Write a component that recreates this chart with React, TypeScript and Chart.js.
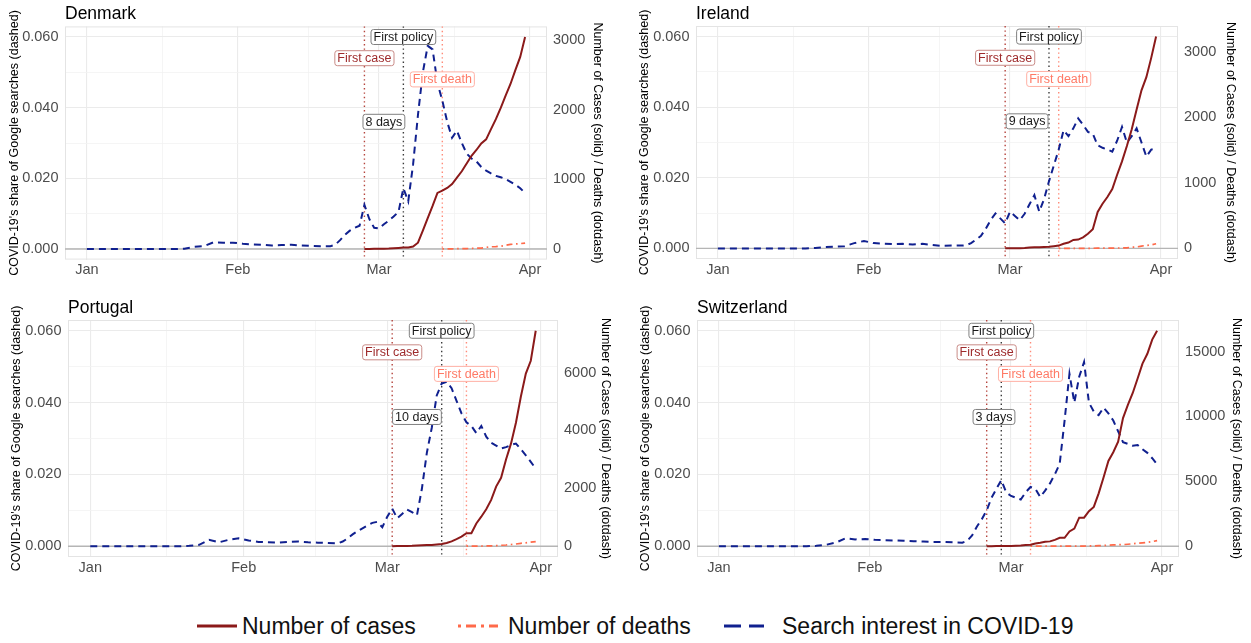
import React, { useEffect, useRef } from "react";
import { Chart, registerables } from "chart.js";
Chart.register(...registerables);

const FONT = '"Liberation Sans", Arial, Helvetica, sans-serif';

// ---------- axis ticks ----------
const X_TICK_DATES = ["2020-01-01", "2020-02-01", "2020-03-01", "2020-04-01"];
const X_TICK_LABELS = ["Jan", "Feb", "Mar", "Apr"];
const Y_TICKS = [0, 0.02, 0.04, 0.06];
const DK_Y2_TICKS = [0, 1000, 2000, 3000];
const IE_Y2_TICKS = [0, 1000, 2000, 3000];
const PT_Y2_TICKS = [0, 2000, 4000, 6000];
const CH_Y2_TICKS = [0, 5000, 10000, 15000];

// ---------- search interest (days since 1 Jan 2020) ----------
const SEARCH_DAYS = [
  0, 2, 4, 6, 8, 10, 12, 14, 16, 18, 20, 22, 24, 26, 28, 30, 32, 34, 36, 38, 40, 42, 44, 46, 48, 50,
  51, 52, 53, 54, 55, 56, 57, 58, 59, 60, 61, 62, 63, 64, 65, 66, 67, 68, 69, 70,
  71, 72, 73, 74, 75, 76, 77, 78, 79, 80, 81, 82, 83, 84, 85, 86, 87, 88, 89, 90,
];
const DK_SEARCH = [
  0, 0, 0, 0, 0, 0, 0, 0, 0, 0, 0.0001, 0.0006, 0.0008, 0.0019, 0.0018, 0.0018, 0.0015, 0.0013, 0.0012, 0.001, 0.0011, 0.0012, 0.001, 0.0009, 0.0008, 0.0008,
  0.0012, 0.0025, 0.004, 0.0052, 0.006, 0.0066, 0.0125, 0.0085, 0.006, 0.0058, 0.007, 0.008, 0.0092, 0.0105, 0.0172, 0.0135, 0.024, 0.038, 0.05, 0.0575,
  0.0565, 0.047, 0.042, 0.036, 0.0315, 0.0335, 0.03, 0.027, 0.0256, 0.0248, 0.0232, 0.0222, 0.0214, 0.0207, 0.0203, 0.0198, 0.019, 0.0182, 0.0172, 0.0158,
];
const IE_SEARCH = [
  0, 0, 0, 0, 0, 0, 0, 0, 0, 0, 0.0001, 0.0004, 0.0005, 0.0006, 0.0015, 0.0021, 0.0015, 0.0013, 0.0012, 0.0013, 0.0011, 0.0013, 0.001, 0.0007, 0.0008, 0.0008,
  0.0009, 0.0015, 0.0025, 0.0035, 0.0055, 0.008, 0.0099, 0.0085, 0.0071, 0.0104, 0.0092, 0.008, 0.0098, 0.0125, 0.0151, 0.0104, 0.014, 0.019, 0.0235, 0.028,
  0.0335, 0.0318, 0.034, 0.0368, 0.035, 0.033, 0.0325, 0.0292, 0.0285, 0.028, 0.0274, 0.0305, 0.0344, 0.03, 0.0318, 0.034, 0.03, 0.026, 0.028, 0.0283,
];
const PT_SEARCH = [
  0, 0, 0, 0, 0, 0, 0, 0, 0, 0, 0.0001, 0.0004, 0.0018, 0.0011, 0.0018, 0.0022, 0.0016, 0.0012, 0.0011, 0.001, 0.0012, 0.0013, 0.0011, 0.001, 0.0009, 0.0008,
  0.0013, 0.0022, 0.0033, 0.0042, 0.005, 0.0058, 0.0065, 0.0068, 0.0053, 0.0082, 0.0105, 0.0078, 0.009, 0.0102, 0.0095, 0.0086, 0.016, 0.026, 0.033, 0.042,
  0.0453, 0.0458, 0.044, 0.0405, 0.037, 0.0345, 0.0335, 0.0315, 0.0335, 0.0305, 0.0288, 0.028, 0.0272, 0.0276, 0.0282, 0.0286, 0.027, 0.0253, 0.0235, 0.0216,
];
const CH_SEARCH = [
  0, 0, 0, 0, 0, 0, 0, 0, 0, 0, 0.0001, 0.0004, 0.001, 0.0022, 0.0019, 0.002, 0.0018, 0.0017, 0.0016, 0.0015, 0.0014, 0.0013, 0.0012, 0.0012, 0.0011, 0.001,
  0.0015, 0.003, 0.0055, 0.0075, 0.01, 0.0135, 0.016, 0.0184, 0.015, 0.014, 0.0135, 0.013, 0.015, 0.0165, 0.016, 0.0137, 0.0155, 0.0175, 0.02, 0.023,
  0.035, 0.048, 0.04, 0.0472, 0.0513, 0.04, 0.0375, 0.0365, 0.0386, 0.037, 0.035, 0.032, 0.029, 0.0285, 0.028, 0.0282, 0.027, 0.026, 0.0245, 0.0228,
];

// ---------- cumulative cases and deaths (daily from start date) ----------
const DK_CASES_START = "2020-02-27";
const DK_CASES = [1, 1, 2, 3, 4, 6, 10, 15, 20, 23, 35, 90, 264, 444, 617, 804, 836, 875, 932, 1024, 1115, 1225, 1337, 1420, 1514, 1572, 1718, 1862, 2023, 2200, 2366, 2564, 2755, 3040];
const DK_DEATHS_START = "2020-03-14";
const DK_DEATHS = [1, 2, 3, 4, 4, 6, 9, 13, 13, 24, 32, 34, 41, 52, 65, 72, 77, 85];

const IE_CASES_START = "2020-02-29";
const IE_CASES = [1, 1, 1, 2, 6, 13, 18, 19, 21, 24, 34, 43, 70, 90, 129, 135, 169, 223, 292, 557, 683, 785, 906, 1125, 1329, 1564, 1819, 2121, 2415, 2615, 2910, 3235];
const IE_DEATHS_START = "2020-03-11";
const IE_DEATHS = [1, 1, 1, 2, 2, 2, 2, 2, 3, 3, 3, 4, 6, 7, 9, 19, 22, 36, 46, 54, 71];

const PT_CASES_START = "2020-03-02";
const PT_CASES = [2, 4, 6, 9, 13, 21, 30, 39, 41, 59, 78, 112, 169, 245, 331, 448, 448, 785, 1020, 1280, 1600, 2060, 2362, 2995, 3544, 4268, 5170, 5962, 6408, 7443];
const PT_DEATHS_START = "2020-03-17";
const PT_DEATHS = [1, 2, 3, 6, 12, 14, 23, 33, 43, 60, 76, 100, 119, 140, 160];

const CH_CASES_START = "2020-02-25";
const CH_CASES = [1, 1, 8, 8, 18, 27, 42, 56, 90, 114, 214, 268, 337, 374, 491, 652, 652, 1139, 1359, 2200, 2200, 2700, 3028, 4075, 5294, 6575, 7245, 8060, 9877, 10897, 11811, 12928, 14076, 14829, 15922, 16605];
const CH_DEATHS_START = "2020-03-05";
const CH_DEATHS = [1, 1, 1, 2, 2, 3, 4, 4, 11, 13, 14, 14, 27, 28, 41, 54, 75, 98, 120, 122, 153, 191, 231, 264, 300, 359, 433];

// ---------- event dates: first case, first policy, first death ----------
const DK_EVENTS = ["2020-02-27", "2020-03-06", "2020-03-14"];
const IE_EVENTS = ["2020-02-29", "2020-03-09", "2020-03-11"];
const PT_EVENTS = ["2020-03-02", "2020-03-12", "2020-03-17"];
const CH_EVENTS = ["2020-02-25", "2020-02-28", "2020-03-05"];

// ---------- helpers ----------
const day = (iso: string) => {
  const [y, m, d] = iso.split("-").map(Number);
  return (Date.UTC(y, m - 1, d) - Date.UTC(2020, 0, 1)) / 86400000;
};
const dailySeries = (start: string, values: number[]) => values.map((v, i) => ({ x: day(start) + i, y: v }));

const C_CASES = "#8B1A1A";
const C_DEATHS = "#FF6A4A";
const C_SEARCH = "#10208F";
const TICK_COLOR = "#4D4D4D";

const PANELS = [
  {
    name: "Denmark", search: DK_SEARCH, casesStart: DK_CASES_START, cases: DK_CASES, deathsStart: DK_DEATHS_START, deaths: DK_DEATHS,
    events: DK_EVENTS, y2Ticks: DK_Y2_TICKS,
    box: { left: 0, top: 0, w: 625, h: 290 }, area: { left: 65, right: 547, top: 26.4, bottom: 259.6 }, titleY: 14, leftTitleX: 15, rightTitleX: 597,
  },
  {
    name: "Ireland", search: IE_SEARCH, casesStart: IE_CASES_START, cases: IE_CASES, deathsStart: IE_DEATHS_START, deaths: IE_DEATHS,
    events: IE_EVENTS, y2Ticks: IE_Y2_TICKS,
    box: { left: 625, top: 0, w: 626, h: 290 }, area: { left: 71, right: 553, top: 26, bottom: 259 }, titleY: 14, leftTitleX: 20, rightTitleX: 605,
  },
  {
    name: "Portugal", search: PT_SEARCH, casesStart: PT_CASES_START, cases: PT_CASES, deathsStart: PT_DEATHS_START, deaths: PT_DEATHS,
    events: PT_EVENTS, y2Ticks: PT_Y2_TICKS,
    box: { left: 0, top: 290, w: 625, h: 300 }, area: { left: 68, right: 558, top: 30, bottom: 267 }, titleY: 18, leftTitleX: 17, rightTitleX: 605,
  },
  {
    name: "Switzerland", search: CH_SEARCH, casesStart: CH_CASES_START, cases: CH_CASES, deathsStart: CH_DEATHS_START, deaths: CH_DEATHS,
    events: CH_EVENTS, y2Ticks: CH_Y2_TICKS,
    box: { left: 625, top: 290, w: 626, h: 300 }, area: { left: 72, right: 554, top: 30, bottom: 267 }, titleY: 18, leftTitleX: 21, rightTitleX: 611,
  },
];

function roundRect(ctx: CanvasRenderingContext2D, x: number, y: number, w: number, h: number, r: number) {
  ctx.beginPath();
  ctx.moveTo(x + r, y);
  ctx.lineTo(x + w - r, y);
  ctx.arcTo(x + w, y, x + w, y + r, r);
  ctx.lineTo(x + w, y + h - r);
  ctx.arcTo(x + w, y + h, x + w - r, y + h, r);
  ctx.lineTo(x + r, y + h);
  ctx.arcTo(x, y + h, x, y + h - r, r);
  ctx.lineTo(x, y + r);
  ctx.arcTo(x, y, x + r, y, r);
  ctx.closePath();
}

function Panel({ p }: { p: any }) {
  const ref = useRef<HTMLCanvasElement | null>(null);
  useEffect(() => {
    if (!ref.current) return;
    const K = Math.max(...p.cases) / 0.06;
    const majorsX = X_TICK_DATES.map(day);
    const minorsX = majorsX.slice(1).map((v, i) => (v + majorsX[i]) / 2);
    const xTicks = [...majorsX, ...minorsX].sort((a, b) => a - b);
    const isMajorX = (v: number) => majorsX.some((m) => Math.abs(m - v) < 1e-6);
    const minorsY = Y_TICKS.slice(1).map((v, i) => (v + Y_TICKS[i]) / 2);
    const yTicks = [...Y_TICKS, ...minorsY].sort((a, b) => a - b);
    const isMajorY = (v: number) => Y_TICKS.some((m) => Math.abs(m - v) < 1e-9);

    const [caseD, policyD, deathD] = p.events.map(day);
    const gap = policyD - caseD;

    const tickFont = { family: FONT, size: 14.5 };
    const titleFont = { family: FONT, size: 12.5 };
    const lh = 12.5 * 1.2;

    const plugin = {
      id: "panelDecor",
      beforeDatasetsDraw(chart: any) {
        const { ctx, chartArea: a, scales } = chart;
        ctx.save();
        ctx.strokeStyle = "#e4e4e4";
        ctx.lineWidth = 1;
        ctx.strokeRect(a.left + 0.5, a.top + 0.5, a.right - a.left - 1, a.bottom - a.top - 1);
        const y0 = scales.y.getPixelForValue(0);
        ctx.strokeStyle = "#b5b5b5";
        ctx.lineWidth = 1.4;
        ctx.beginPath();
        ctx.moveTo(a.left, y0);
        ctx.lineTo(a.right, y0);
        ctx.stroke();
        ctx.lineWidth = 1.4;
        ctx.setLineDash([1.4, 3]);
        const vl = [
          { x: caseD, c: "#B5443D" },
          { x: policyD, c: "#3a3a3a" },
          { x: deathD, c: "#FF8A78" },
        ];
        for (const v of vl) {
          const px = scales.x.getPixelForValue(v.x);
          ctx.strokeStyle = v.c;
          ctx.beginPath();
          ctx.moveTo(px, a.top);
          ctx.lineTo(px, a.bottom);
          ctx.stroke();
        }
        ctx.restore();
      },
      afterDatasetsDraw(chart: any) {
        const { ctx, scales } = chart;
        const labels = [
          { t: "First policy", x: policyD, y: 0.06, tc: "#1a1a1a", bc: "#808080" },
          { t: "First case", x: caseD, y: 0.054, tc: "#9E2A2B", bc: "#C98B87" },
          { t: "First death", x: deathD, y: 0.048, tc: "#FF7A66", bc: "#FFB0A4" },
          { t: `${gap} days`, x: (caseD + policyD) / 2, y: 0.036, tc: "#1a1a1a", bc: "#808080" },
        ];
        ctx.save();
        ctx.font = `12.5px ${FONT}`;
        ctx.textAlign = "center";
        ctx.textBaseline = "middle";
        for (const l of labels) {
          const cx = scales.x.getPixelForValue(l.x);
          const cy = scales.y.getPixelForValue(l.y);
          const w = ctx.measureText(l.t).width + 5;
          const h = 15;
          roundRect(ctx, cx - w / 2, cy - h / 2, w, h, 2.5);
          ctx.fillStyle = "#ffffff";
          ctx.fill();
          ctx.strokeStyle = l.bc;
          ctx.lineWidth = 1;
          ctx.stroke();
          ctx.fillStyle = l.tc;
          ctx.fillText(l.t, cx, cy + 0.5);
        }
        ctx.restore();
      },
      afterDraw(chart: any) {
        const { ctx, chartArea: a } = chart;
        ctx.save();
        ctx.font = `17.5px ${FONT}`;
        ctx.fillStyle = "#000";
        ctx.textAlign = "left";
        ctx.textBaseline = "middle";
        ctx.fillText(p.name, a.left, p.titleY);
        ctx.restore();
      },
    };

    const chart = new Chart(ref.current, {
      type: "line",
      data: {
        datasets: [
          {
            label: "Number of cases",
            data: dailySeries(p.casesStart, p.cases),
            yAxisID: "y2",
            borderColor: C_CASES,
            borderWidth: 2,
            pointRadius: 0,
            tension: 0,
          },
          {
            label: "Number of deaths",
            data: dailySeries(p.deathsStart, p.deaths),
            yAxisID: "y2",
            borderColor: C_DEATHS,
            borderWidth: 1.7,
            borderDash: [1.6, 3.6, 6, 3.6],
            pointRadius: 0,
            tension: 0,
          },
          {
            label: "Search interest in COVID-19",
            data: SEARCH_DAYS.map((d, i) => ({ x: d, y: p.search[i] })),
            yAxisID: "y",
            borderColor: C_SEARCH,
            borderWidth: 2,
            borderDash: [7, 5],
            pointRadius: 0,
            tension: 0,
          },
        ],
      },
      options: {
        animation: false,
        responsive: false,
        maintainAspectRatio: false,
        events: [],
        layout: { padding: { top: p.area.top, left: 0, right: 0, bottom: 0 } },
        plugins: { legend: { display: false }, tooltip: { enabled: false }, title: { display: false } },
        scales: {
          x: {
            type: "linear",
            min: -4.5,
            max: 94.5,
            afterBuildTicks: (s: any) => {
              s.ticks = xTicks.map((v) => ({ value: v }));
            },
            afterFit: (s: any) => {
              s.height = p.box.h - p.area.bottom;
            },
            ticks: {
              autoSkip: false,
              maxRotation: 0,
              padding: 2,
              color: TICK_COLOR,
              font: tickFont,
              callback: (v: any) => {
                const i = majorsX.findIndex((m) => Math.abs(m - v) < 1e-6);
                return i >= 0 ? X_TICK_LABELS[i] : "";
              },
            },
            grid: {
              drawTicks: false,
              color: (c: any) => (c.tick && isMajorX(c.tick.value) ? "#ebebeb" : "#f3f3f3"),
              lineWidth: (c: any) => (c.tick && isMajorX(c.tick.value) ? 1.1 : 0.8),
            },
            border: { display: false },
          },
          y: {
            type: "linear",
            position: "left",
            min: -0.003,
            max: 0.063,
            afterBuildTicks: (s: any) => {
              s.ticks = yTicks.map((v) => ({ value: v }));
            },
            afterFit: (s: any) => {
              s.width = p.area.left;
            },
            ticks: {
              autoSkip: false,
              padding: 6.5,
              color: TICK_COLOR,
              font: tickFont,
              callback: (v: any) => (isMajorY(v) ? Number(v).toFixed(3) : ""),
            },
            grid: {
              drawTicks: false,
              color: (c: any) => (c.tick && isMajorY(c.tick.value) ? "#ebebeb" : "#f3f3f3"),
              lineWidth: (c: any) => (c.tick && isMajorY(c.tick.value) ? 1.1 : 0.8),
            },
            border: { display: false },
            title: {
              display: true,
              text: "COVID-19's share of Google searches (dashed)",
              color: "#000",
              font: titleFont,
              padding: { top: p.leftTitleX - lh / 2, bottom: 0 },
            },
          },
          y2: {
            type: "linear",
            position: "right",
            min: -0.003 * K,
            max: 0.063 * K,
            afterBuildTicks: (s: any) => {
              s.ticks = p.y2Ticks.map((v: number) => ({ value: v }));
            },
            afterFit: (s: any) => {
              s.width = p.box.w - p.area.right;
            },
            ticks: {
              autoSkip: false,
              padding: 6,
              color: TICK_COLOR,
              font: tickFont,
              callback: (v: any) => String(v),
            },
            grid: { display: false, drawTicks: false },
            border: { display: false },
            title: {
              display: true,
              text: "Number of Cases (solid) / Deaths (dotdash)",
              color: "#000",
              font: titleFont,
              padding: { top: p.box.w - p.rightTitleX - lh / 2, bottom: 0 },
            },
          },
        },
      },
      plugins: [plugin],
    } as any);
    return () => chart.destroy();
  }, []);
  return (
    <canvas
      ref={ref}
      width={p.box.w}
      height={p.box.h}
      style={{ position: "absolute", left: p.box.left, top: p.box.top, width: p.box.w, height: p.box.h }}
    />
  );
}

const LEGEND_ITEMS = ["Number of cases", "Number of deaths", "Search interest in COVID-19"];

function Legend() {
  const keys = [
    { left: 197, textLeft: 242, color: C_CASES, dash: "", width: 3.2 },
    { left: 458, textLeft: 508, color: C_DEATHS, dash: "3 5 10 5", width: 3 },
    { left: 724, textLeft: 782, color: C_SEARCH, dash: "17 8", width: 3.2 },
  ];
  return (
    <>
      {keys.map((k, i) => (
        <React.Fragment key={i}>
          <svg width={40} height={10} style={{ position: "absolute", left: k.left, top: 621 }}>
            <line x1={0} y1={5} x2={40} y2={5} stroke={k.color} strokeWidth={k.width} strokeDasharray={k.dash || undefined} />
          </svg>
          <div
            style={{
              position: "absolute",
              left: k.textLeft,
              top: 612,
              height: 28,
              lineHeight: "28px",
              fontSize: 23,
              fontFamily: FONT,
              color: "#111",
              whiteSpace: "nowrap",
            }}
          >
            {LEGEND_ITEMS[i]}
          </div>
        </React.Fragment>
      ))}
    </>
  );
}

export default function App() {
  return (
    <div style={{ position: "absolute", left: 0, top: 0, width: 1251, height: 643, background: "#fff", overflow: "hidden" }}>
      {PANELS.map((p) => (
        <Panel key={p.name} p={p} />
      ))}
      <Legend />
    </div>
  );
}
